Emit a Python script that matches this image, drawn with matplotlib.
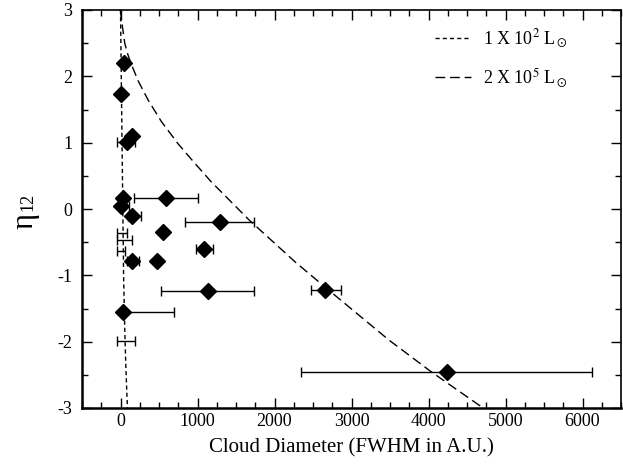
import numpy as np
import matplotlib
matplotlib.use("Agg")
import matplotlib.pyplot as plt
from matplotlib.ticker import MultipleLocator

plt.rcParams['font.family'] = ['Liberation Serif', 'DejaVu Serif']
plt.rcParams['mathtext.fontset'] = 'stix'
plt.rcParams['axes.unicode_minus'] = False

# clouds with diamond markers
diam = [45, 10, 150, 85, 30, 590, 5, 150, 1290, 550, 1090, 145, 480, 1130, 2660, 4235, 35]
eta = [2.2, 1.73, 1.1, 1.01, 0.17, 0.17, 0.04, -0.1, -0.2, -0.34, -0.6, -0.79, -0.79, -1.23, -1.22, -2.46, -1.55]
err_lo = [0, 0, 0, 130, 0, 415, 5, 55, 455, 0, 110, 65, 0, 605, 190, 1895, 30]
err_hi = [0, 0, 0, 100, 0, 410, 105, 115, 440, 0, 110, 95, 0, 610, 210, 1885, 665]

# error bars whose markers are not visible
diam_nm = [20, 50, 5, 65]
eta_nm = [-0.36, -0.46, -0.64, -1.99]
nm_lo = [70, 100, 50, 115]
nm_hi = [65, 100, 50, 120]

# model curves
lo_x = [0, 10, 20, 30, 40, 55, 70, 90]
lo_y = [3.0, 2.0, 1.0, 0.0, -1.0, -1.8, -2.4, -3.0]
hi_x = [0, 8, 25, 55, 95, 145, 230, 360, 530, 750, 920, 1170, 1665, 2270, 2680, 3480, 4030, 4710]
hi_y = [3.0, 2.9, 2.75, 2.5, 2.33, 2.17, 1.93, 1.64, 1.32, 0.98, 0.75, 0.42, -0.16, -0.8, -1.2, -1.97, -2.45, -3.0]

fig = plt.figure(figsize=(6.23, 4.67), dpi=100)
ax = fig.add_axes([82 / 623, 59 / 467, 539 / 623, 398 / 467])

ax.plot(lo_x, lo_y, color='black', lw=1, dashes=(3, 2.2), label=r'1 X 10$^2$ L$_\odot$')
ax.plot(hi_x, hi_y, color='black', lw=1, dashes=(7, 3.5), label=r'2 X 10$^5$ L$_\odot$')

ax.errorbar(diam, eta, xerr=[err_lo, err_hi], fmt='none', ecolor='black', elinewidth=1,
            capsize=3.5, capthick=1)
ax.errorbar(diam_nm, eta_nm, xerr=[nm_lo, nm_hi], fmt='none', ecolor='black', elinewidth=1,
            capsize=3.5, capthick=1)
ax.plot(diam, eta, 'D', color='black', ms=8, ls='none')

ax.set_xlim(-500, 6500)
ax.set_ylim(-3, 3)
ax.xaxis.set_major_locator(MultipleLocator(1000))
ax.xaxis.set_minor_locator(MultipleLocator(250))
ax.yaxis.set_major_locator(MultipleLocator(1))
ax.yaxis.set_minor_locator(MultipleLocator(0.5))
ax.tick_params(which='both', direction='in', top=True, right=True, width=1)
ax.tick_params(which='major', length=7, labelsize=13)
ax.tick_params(which='minor', length=4)
ax.tick_params(axis='x', pad=3.5)
ax.tick_params(axis='y', pad=7)
for s in ['left', 'bottom']:
    ax.spines[s].set_linewidth(1.8)
for s in ['top', 'right']:
    ax.spines[s].set_linewidth(1.2)

ax.set_xlabel('Cloud Diameter (FWHM in A.U.)', fontsize=15, labelpad=6)
# y label: eta with a smaller 12 on the same baseline
fig.text(25 / 623, 1 - 221 / 467, 'η', fontsize=22, rotation=90, ha='center', va='center')
fig.text(28 / 623, 1 - 202 / 467, '12', fontsize=13, rotation=90, ha='center', va='center')

ax.legend(loc='upper right', frameon=False, fontsize=13, handlelength=2.0,
          handletextpad=0.66, labelspacing=0.9, borderaxespad=0,
          bbox_to_anchor=(575 / 623, 1 - 20 / 467), bbox_transform=fig.transFigure)

fig.savefig('out.png', dpi=100)
